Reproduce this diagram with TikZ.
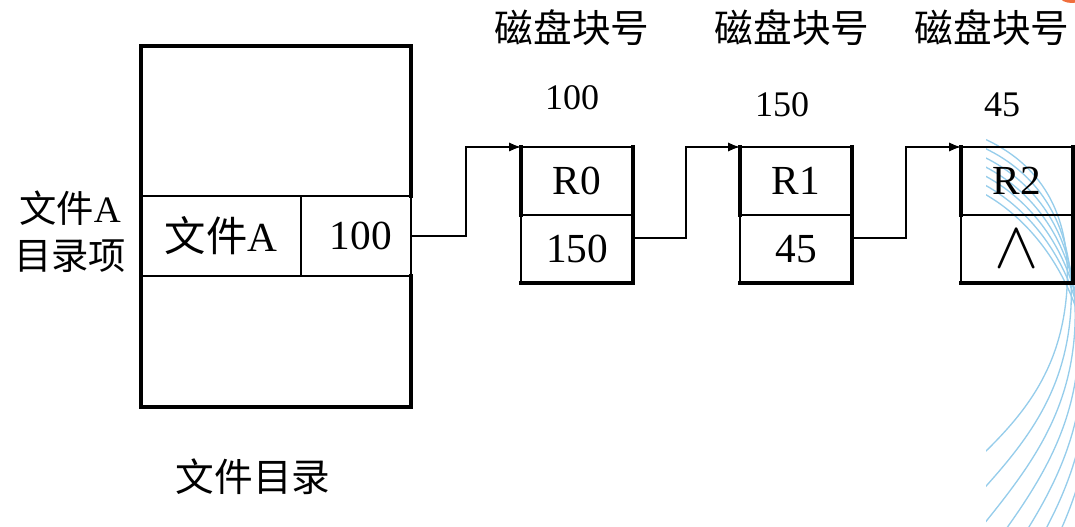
\documentclass[tikz,border=0pt]{standalone}
\usepackage{fontspec}
\setmainfont{Liberation Serif}
\newfontfamily\cjk{Noto Sans CJK SC}
\usetikzlibrary{arrows.meta}
\definecolor{deco}{RGB}{150,205,235}
\definecolor{blob}{RGB}{240,110,60}
\begin{document}
\begin{tikzpicture}[x=0.75pt,y=-0.75pt,
  cell/.style={inner sep=0pt, outer sep=0pt, draw=none, font=\fontsize{31}{36}\selectfont},
  thk/.style={line width=2.3pt, line cap=rect},
  thn/.style={line width=1.1pt},
  conn/.style={line width=1.3pt, -{Latex[length=9pt,width=7pt]}},
  lab/.style={inner sep=0pt, font=\fontsize{29}{35}\selectfont},
  num/.style={inner sep=0pt, font=\fontsize{27}{32}\selectfont}]
\useasboundingbox (0,0) rectangle (1075,527);

% background decoration
\begin{scope}
  \clip (986,128) rectangle (1075,527);
  \foreach \k in {0,...,6} {
    \draw[deco, line width=1pt]
      (975,{135+9*\k}) .. controls (1040,{160+10*\k}) and ({1075+4*\k},{215+15*\k}) ..
      ({1066+4*\k},{300+20*\k}) .. controls ({1057+4*\k},{385+25*\k}) and (1010,{430+30*\k}) ..
      (955,{480+40*\k});
  }
\end{scope}
\fill[blob] (1072,-3) ellipse (12 and 6);

% file directory
\node[cell, minimum width=202.5pt, minimum height=112.5pt] (dtop) at (276,121) {};
\node[cell, minimum width=202.5pt, minimum height=98.25pt] (dbot) at (276,341.5) {};
\node[cell, minimum width=120pt, minimum height=60pt] (fname) at (221,236) {{\cjk 文件}A};
\node[cell, minimum width=82.5pt, minimum height=60pt] (fptr) at (356,236) {\hspace*{7pt}100};
\draw[thk] (dbot.south west) -- (dtop.north west) -- (dtop.north east) -- (dtop.south east);
\draw[thk] (dbot.north east) -- (dbot.south east) -- (dbot.south west);
\draw[thn] (fname.north west) -- (fptr.north east) -- (fptr.south east) -- (fname.south west);
\draw[thn] (fname.north east) -- (fname.south east);

% blocks
\foreach \i/\cx/\a/\b in {0/577/R0/150, 1/796/R1/45, 2/1017/R2/\scalebox{2}{$\wedge$}} {
  \node[cell, minimum width=84pt, minimum height=51pt] (r\i) at (\cx,181) {\a};
  \node[cell, minimum width=84pt, minimum height=51pt] (p\i) at (\cx,249) {\b};
  \draw[thk] (r\i.south west) -- (r\i.north west);
  \draw[thn] (r\i.north west) -- (r\i.north east);
  \draw[thk] (r\i.north east) -- (p\i.south east) -- (p\i.south west);
  \draw[thn] (p\i.south west) -- (p\i.north west) -- (p\i.north east);
}

% connectors
\coordinate (k0) at (466,147);
\coordinate (k1) at (686,147);
\coordinate (k2) at (906,147);
\draw[conn] (fptr.east) -| (k0) -- (r0.north west);
\draw[conn] ([yshift=8pt]p0.east) -| (k1) -- (r1.north west);
\draw[conn] ([yshift=8pt]p1.east) -| (k2) -- (r2.north west);

% labels
\node[lab] (hd0) at (572,28) {\cjk 磁盘块号};
\node[lab] (hd1) at (792,28) {\cjk 磁盘块号};
\node[lab] (hd2) at (992,28) {\cjk 磁盘块号};
\node[num] (n0) at (572,98) {100};
\node[num] (n1) at (782,105) {150};
\node[num] (n2) at (1002,105) {45};
\node[lab, align=center, font=\fontsize{28}{35}\selectfont] (entry) at (70,232) {{\cjk 文件}A\\{\cjk 目录项}};
\node[lab] (cap) at (253,477) {\cjk 文件目录};
\end{tikzpicture}
\end{document}
